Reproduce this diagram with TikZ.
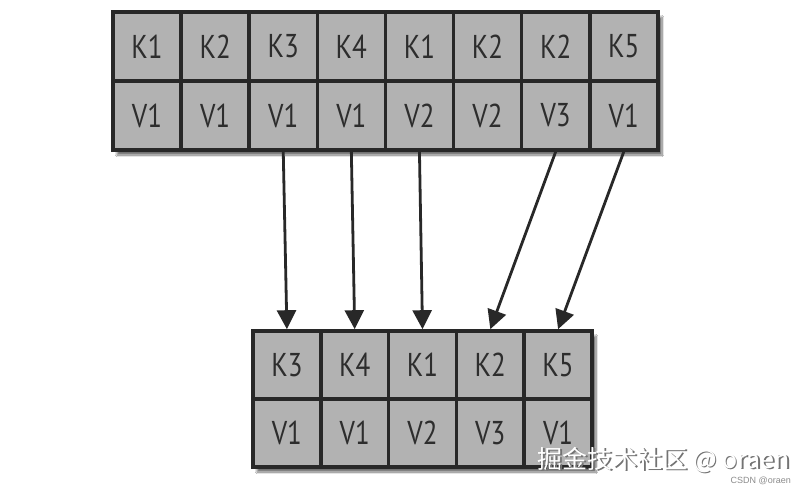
\documentclass[tikz,border=0pt]{standalone}
\usepackage{fontspec}
\newfontfamily\cellfont[FakeStretch=0.82]{PT Sans}
\newfontfamily\cjk{Noto Sans CJK SC}
\newfontfamily\wmfont{Liberation Sans}
\usetikzlibrary{arrows.meta,shadows.blur}
\definecolor{cellfill}{RGB}{178,178,178}
\definecolor{cellline}{RGB}{40,40,40}
\definecolor{celltext}{RGB}{45,45,45}
\tikzset{
  cellbox/.style={draw=cellline, line width=3.6pt, fill=cellfill,
    minimum width=68.1pt, minimum height=69pt, inner sep=0pt,
    font=\cellfont\fontsize{33pt}{33pt}\selectfont, text=celltext},
  bcellbox/.style={cellbox, minimum width=67.8pt, minimum height=68pt},
  gridshadow/.style={fill=black!70, blur shadow={shadow blur steps=8, shadow xshift=3pt, shadow yshift=-4pt, shadow opacity=60}},
  mapline/.style={draw=cellline, line width=2.8pt,
    -{Triangle[width=19pt,length=19pt]}},
}
\begin{document}
\begin{tikzpicture}[x=1pt,y=-1pt]
\useasboundingbox (0,0) rectangle (808,490);
\fill[white] (0,0) rectangle (808,490);
% shadows
\node[draw=none, fill=cellfill, minimum width=545pt, minimum height=138pt, inner sep=0pt,
  blur shadow={shadow blur steps=10, shadow xshift=4pt, shadow yshift=-5pt, shadow opacity=55}] (tshadow) at (385.5,81) {};
\node[draw=none, fill=cellfill, minimum width=339pt, minimum height=136pt, inner sep=0pt,
  blur shadow={shadow blur steps=10, shadow xshift=4pt, shadow yshift=-5pt, shadow opacity=55}] (bshadow) at (422.5,399) {};
% top grid
\foreach \k/\v [count=\i] in {K1/V1,K2/V1,K3/V1,K4/V1,K1/V2,K2/V2,K2/V3,K5/V1}{
  \node[cellbox] (t\i k) at ({113+68.1*(\i-0.5)},46.5) {\k};
  \node[cellbox] (t\i v) at ({113+68.1*(\i-0.5)},115.5) {\v};
}
% bottom grid
\foreach \k/\v [count=\i] in {K3/V1,K4/V1,K1/V2,K2/V3,K5/V1}{
  \node[bcellbox] (b\i k) at ({253+67.8*(\i-0.5)},365) {\k};
  \node[bcellbox] (b\i v) at ({253+67.8*(\i-0.5)},433) {\v};
}
% arrows
\draw[mapline] (t3v.south) -- (b1k.north);
\draw[mapline] (t4v.south) -- (b2k.north);
\draw[mapline] (t5v.south) -- (b3k.north);
\draw[mapline] (t7v.south) -- (b4k.north);
\draw[mapline] (t8v.south) -- (b5k.north);
% watermark
\node[anchor=east, inner sep=0pt, text=black!55, font=\cjk\fontsize{25pt}{25pt}\selectfont] (wmshadow) at (791.5,461.5) {掘金技术社区 @ oraen};
\node[anchor=east, inner sep=0pt, text=white, font=\cjk\fontsize{25pt}{25pt}\selectfont] (wm) at (790,460) {掘金技术社区 @ oraen};
\node[anchor=east, inner sep=0pt, text=black!45, font=\wmfont\fontsize{9pt}{9pt}\selectfont] (csdn) at (791,481) {CSDN @oraen};
\end{tikzpicture}
\end{document}
